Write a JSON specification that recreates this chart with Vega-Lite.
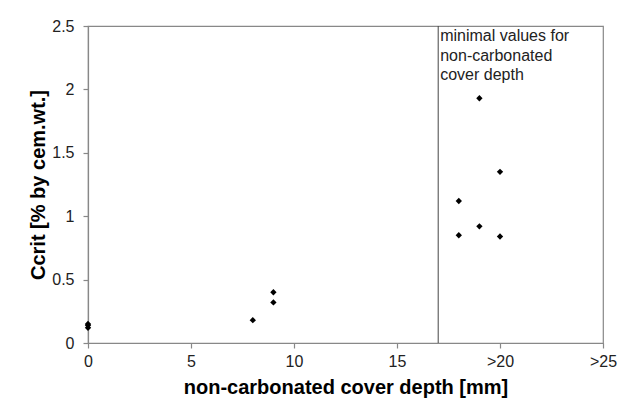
{
  "$schema": "https://vega.github.io/schema/vega-lite/v6.json",
  "width": 515,
  "height": 317,
  "autosize": {"type": "none"},
  "padding": {"left": 88, "top": 26, "right": 17, "bottom": 60},
  "background": "white",
  "config": {
    "font": "Liberation Sans",
    "view": {"stroke": "#888888", "strokeWidth": 1.2},
    "axis": {
      "grid": false,
      "domainColor": "#888888",
      "domainWidth": 1.2,
      "tickColor": "#888888",
      "tickWidth": 1.2,
      "tickSize": 5,
      "labelFlush": false,
      "labelFont": "Liberation Sans",
      "labelFontSize": 16,
      "labelColor": "#222222",
      "titleFont": "Liberation Sans",
      "titleFontWeight": "bold",
      "titleFontSize": 20,
      "titleColor": "#000000"
    }
  },
  "datasets": {
    "points": [
      {"depth": 0, "ccrit": 0.15},
      {"depth": 0, "ccrit": 0.14},
      {"depth": 0, "ccrit": 0.12},
      {"depth": 8, "ccrit": 0.18},
      {"depth": 9, "ccrit": 0.40},
      {"depth": 9, "ccrit": 0.32},
      {"depth": 18, "ccrit": 1.12},
      {"depth": 18, "ccrit": 0.85},
      {"depth": 19, "ccrit": 1.93},
      {"depth": 19, "ccrit": 0.92},
      {"depth": 20, "ccrit": 1.35},
      {"depth": 20, "ccrit": 0.84}
    ],
    "marker": [
      {"depth": 17, "ccrit": 2.5, "note": "minimal values for\nnon-carbonated\ncover depth"}
    ]
  },
  "layer": [
    {
      "data": {"name": "marker"},
      "mark": {"type": "rule", "color": "#444444", "strokeWidth": 1},
      "encoding": {
        "x": {"field": "depth", "type": "quantitative", "scale": {"domain": [0, 25], "nice": false}}
      }
    },
    {
      "data": {"name": "marker"},
      "mark": {"type": "text", "align": "left", "baseline": "top", "dx": 2, "dy": 2, "fontSize": 16, "lineHeight": 19.5, "lineBreak": "\n", "color": "#222222", "font": "Liberation Sans"},
      "encoding": {
        "x": {"field": "depth", "type": "quantitative"},
        "y": {"field": "ccrit", "type": "quantitative"},
        "text": {"field": "note"}
      }
    },
    {
      "data": {"name": "points"},
      "mark": {"type": "point", "shape": "diamond", "filled": true, "color": "#000000", "size": 40, "opacity": 1},
      "encoding": {
        "x": {
          "field": "depth",
          "type": "quantitative",
          "scale": {"domain": [0, 25], "nice": false},
          "axis": {
            "values": [0, 5, 10, 15, 20, 25],
            "labelExpr": "datum.value >= 20 ? '>' + datum.label : datum.label",
            "labelPadding": 5,
            "title": "non-carbonated cover depth [mm]",
            "titlePadding": 8
          }
        },
        "y": {
          "field": "ccrit",
          "type": "quantitative",
          "scale": {"domain": [0, 2.5], "nice": false},
          "axis": {
            "values": [0, 0.5, 1, 1.5, 2, 2.5],
            "format": "~g",
            "labelPadding": 9,
            "title": "Ccrit [% by cem.wt.]",
            "titlePadding": 3
          }
        }
      }
    }
  ]
}
